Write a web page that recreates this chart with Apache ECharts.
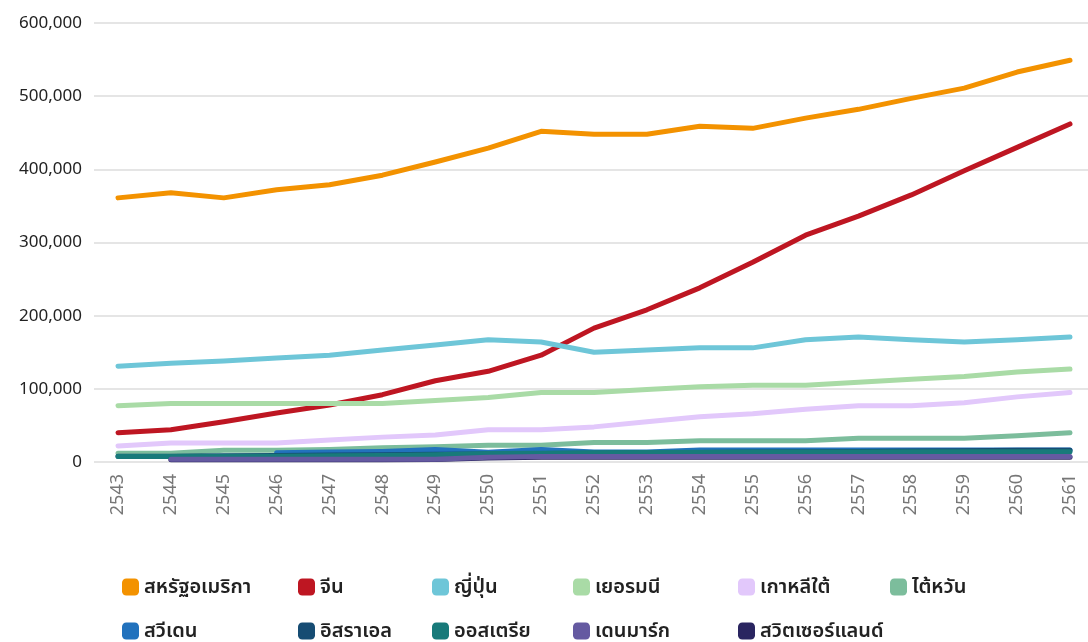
<!DOCTYPE html>
<html>
<head>
<meta charset="utf-8">
<script src="https://cdn.jsdelivr.net/npm/echarts@6/dist/echarts.min.js"></script>
<style>
  html, body { margin: 0; padding: 0; background: #fff; }
  #chart { width: 1088px; height: 642px; }
</style>
</head>
<body>
<div id="chart"></div>
<script>
  const years = ['2543','2544','2545','2546','2547','2548','2549','2550','2551','2552',
                 '2553','2554','2555','2556','2557','2558','2559','2560','2561'];

  const usa     = [361000,368000,361000,372000,379000,392000,410000,429000,452000,448000,448000,459000,456000,470000,482000,497000,511000,533000,549000];
  const china   = [40000,44000,55000,67000,78000,92000,111000,124000,146000,183000,208000,238000,273000,310000,336000,365000,398000,430000,462000];
  const japan   = [131000,135000,138000,142000,146000,153000,160000,167000,164000,150000,153000,156000,156000,167000,171000,167000,164000,167000,171000];
  const germany = [77000,80000,80000,80000,80000,80000,84000,88000,95000,95000,99000,103000,105000,105000,109000,113000,117000,123000,127000];
  const korea   = [22000,26000,26000,26000,30000,34000,37000,44000,44000,48000,55000,62000,66000,72000,77000,77000,81000,89000,95000];
  const taiwan  = [12000,12000,16000,16000,17000,19500,21000,23000,23000,26500,26500,29000,29000,29000,32500,32500,32500,36000,40000];
  const sweden  = [null,null,null,12700,13500,14500,17000,13200,17000,13700,13700,16400,16400,16400,16400,16400,16400,16400,16400];
  const israel  = [8000,8000,8500,9000,9500,10000,10500,11000,11500,12000,12500,13000,13500,14000,14500,15000,15500,16000,16000];
  const austria = [7500,7500,7800,8000,8500,9000,10000,11500,12000,12500,13000,13300,13500,13700,13800,13900,14000,14100,14100];
  const denmark = [null,3700,3700,3700,3700,3700,3900,6500,7500,7500,7500,7500,7500,7500,7500,7500,7500,7500,7500];
  const swiss   = [null,3000,3000,3000,3000,3000,3500,5500,6500,6500,6500,6500,6500,6500,6500,6500,6500,6500,6500];

  const yTicks = [0, 100000, 200000, 300000, 400000, 500000, 600000];

  const names  = ['สหรัฐอเมริกา','จีน','ญี่ปุ่น','เยอรมนี','เกาหลีใต้','ไต้หวัน',
                  'สวีเดน','อิสราเอล','ออสเตรีย','เดนมาร์ก','สวิตเซอร์แลนด์'];
  const colors = ['#f39200','#be1622','#6ec6d8','#a9dba6','#e2c8fb','#7cbd9c',
                  '#2272bd','#164c73','#187a7a','#655aa1','#2a2560'];
  const values = [usa, china, japan, germany, korea, taiwan, sweden, israel, austria, denmark, swiss];

  const font = '"Noto Sans", "Noto Sans Thai", sans-serif';
  const yMax = yTicks[yTicks.length - 1];
  const yStep = yTicks[1] - yTicks[0];

  let myChart = echarts.init(document.getElementById('chart'));

  // legend item positions (left, top), one legend per item
  const legendCols = [122, 298, 432, 573, 738, 890];
  const legendRows = [569, 613];

  let option = {
    animation: false,
    color: colors,
    legend: names.map((n, i) => ({
      left: legendCols[i % 6],
      top: legendRows[Math.floor(i / 6)],
      padding: 0,
      itemWidth: 17,
      itemHeight: 17,
      icon: 'roundRect',
      textStyle: {
        fontFamily: font, fontSize: 20, fontWeight: 600, color: '#222',
        lineHeight: 30, padding: [0, 0, 6, 0]
      },
      data: [n]
    })),
    grid: [
      { left: 94, right: 0, top: 23, bottom: 180 },
      { left: 118, right: 18, top: 23, bottom: 180 }
    ],
    xAxis: [
      { type: 'category', gridIndex: 0, data: years, show: false },
      {
        type: 'category', gridIndex: 1, data: years, boundaryGap: false,
        axisLine: { show: false },
        axisTick: { show: false },
        axisLabel: { rotate: 90, margin: 12, fontFamily: font, fontSize: 18, color: '#777' }
      }
    ],
    yAxis: [
      {
        type: 'value', gridIndex: 0, min: 0, max: yMax, interval: yStep,
        axisLabel: {
          fontFamily: font, fontSize: 17, color: '#222', margin: 12,
          formatter: v => v.toLocaleString('en-US')
        },
        splitLine: { lineStyle: { color: '#dcdcdc', width: 1.5 } },
        axisLine: { show: false },
        axisTick: { show: false }
      },
      {
        type: 'value', gridIndex: 1, min: 0, max: yMax, interval: yStep,
        show: false, splitLine: { show: false }
      }
    ],
    series: names.map((n, i) => ({
      name: n,
      type: 'line',
      xAxisIndex: 1,
      yAxisIndex: 1,
      data: values[i],
      symbol: 'none',
      z: n === 'สวิตเซอร์แลนด์' ? 1 : 2,
      lineStyle: { width: 5, color: colors[i], cap: 'round', join: 'round' },
      itemStyle: { color: colors[i] }
    }))
  };

  myChart.setOption(option);
  window.addEventListener('resize', myChart.resize);
</script>
</body>
</html>
